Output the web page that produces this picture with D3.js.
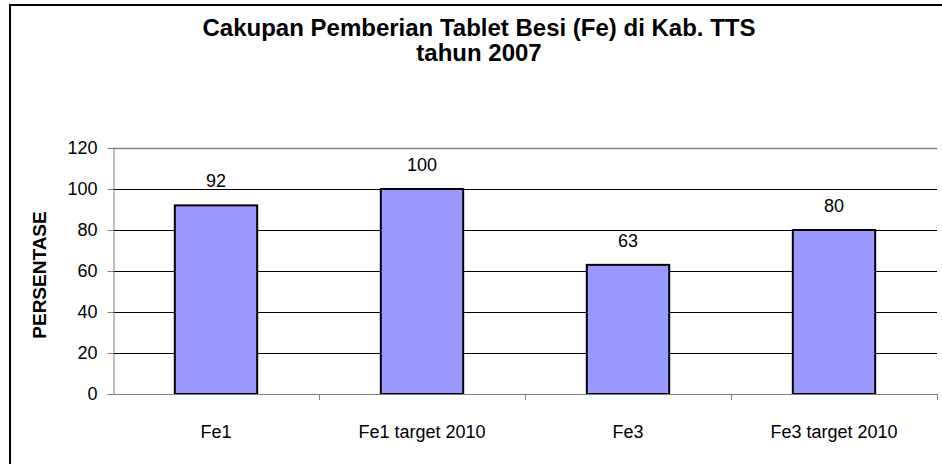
<!DOCTYPE html>
<html>
<head>
<meta charset="utf-8">
<script src="https://cdn.jsdelivr.net/npm/d3@7"></script>
<style>
  html, body { margin: 0; padding: 0; background: #fff; }
  svg { display: block; font-family: Arial, "Liberation Sans", sans-serif; }
</style>
</head>
<body>
<div id="chart"></div>
<script>
const categories = ['Fe1', 'Fe1 target 2010', 'Fe3', 'Fe3 target 2010'];
const values = [92, 100, 63, 80];
const yTicks = [0, 20, 40, 60, 80, 100, 120];
const titleLines = ['Cakupan Pemberian Tablet Besi (Fe) di Kab. TTS', 'tahun 2007'];
const yTitle = 'PERSENTASE';

const width = 942, height = 464;
const plot = { left: 113, right: 937, top: 148, bottom: 394 };

const svg = d3.select('#chart').append('svg')
    .attr('width', width)
    .attr('height', height);

// chart frame, runs past the right and bottom edges like the original crop
svg.append('rect')
    .attr('x', 10).attr('y', 5)
    .attr('width', 942).attr('height', 470)
    .attr('fill', '#fff')
    .attr('stroke', '#000')
    .attr('stroke-width', 2);

svg.append('text')
    .attr('y', 36)
    .attr('text-anchor', 'middle')
    .attr('font-size', '24px')
    .attr('font-weight', 'bold')
  .selectAll('tspan')
  .data(titleLines)
  .join('tspan')
    .attr('x', 479)
    .attr('dy', (d, i) => i ? 25 : 0)
    .text(d => d);

const x = d3.scaleBand()
    .domain(categories)
    .range([plot.left, plot.right])
    .paddingInner(0.6)
    .paddingOuter(0.3);

const y = d3.scaleLinear()
    .domain([0, 120])
    .range([plot.bottom, plot.top]);

// gridlines
svg.append('g')
  .selectAll('line')
  .data(yTicks.filter(t => t > 0 && t < 120))
  .join('line')
    .attr('x1', plot.left).attr('x2', plot.right)
    .attr('y1', d => Math.round(y(d)) + 0.5)
    .attr('y2', d => Math.round(y(d)) + 0.5)
    .attr('stroke', '#000');

// plot area top edge
svg.append('line')
    .attr('x1', plot.left).attr('x2', plot.right)
    .attr('y1', y(120) + 0.5).attr('y2', y(120) + 0.5)
    .attr('stroke', '#808080')
    .attr('stroke-width', 1.5);

// bars
svg.append('g')
  .selectAll('rect')
  .data(values)
  .join('rect')
    .attr('x', (d, i) => x(categories[i]))
    .attr('y', d => y(d))
    .attr('width', x.bandwidth())
    .attr('height', d => y(0) - y(d))
    .attr('fill', '#9999ff')
    .attr('stroke', '#000')
    .attr('stroke-width', 2);

// data labels
svg.append('g')
    .attr('font-size', '18px')
    .attr('text-anchor', 'middle')
  .selectAll('text')
  .data(values)
  .join('text')
    .attr('x', (d, i) => x(categories[i]) + x.bandwidth() / 2)
    .attr('y', d => y(d) - 18)
    .text(d => d);

// y axis
const yAxis = svg.append('g')
    .attr('transform', `translate(${plot.left + 0.5},0)`)
    .call(d3.axisLeft(y).tickValues(yTicks).tickSize(6).tickPadding(10));
yAxis.selectAll('path, line').attr('stroke', '#808080');
yAxis.selectAll('text')
    .attr('font-size', '18px')
    .attr('font-family', 'Arial, "Liberation Sans", sans-serif')
    .attr('fill', '#000');

// x axis: ticks at category boundaries
const boundaries = d3.range(categories.length + 1)
    .map(i => plot.left + i * x.step());
svg.append('line')
    .attr('x1', plot.left).attr('x2', plot.right)
    .attr('y1', plot.bottom + 0.5).attr('y2', plot.bottom + 0.5)
    .attr('stroke', '#808080');
svg.append('g')
  .selectAll('line')
  .data(boundaries.slice(1))
  .join('line')
    .attr('x1', d => Math.round(d) + 0.5).attr('x2', d => Math.round(d) + 0.5)
    .attr('y1', plot.bottom).attr('y2', plot.bottom + 6)
    .attr('stroke', '#808080');

svg.append('g')
    .attr('font-size', '18px')
    .attr('text-anchor', 'middle')
  .selectAll('text')
  .data(categories)
  .join('text')
    .attr('x', d => x(d) + x.bandwidth() / 2)
    .attr('y', 438)
    .text(d => d);

svg.append('text')
    .attr('transform', 'translate(46,275) rotate(-90)')
    .attr('text-anchor', 'middle')
    .attr('font-size', '19px')
    .attr('font-weight', 'bold')
    .text(yTitle);
</script>
</body>
</html>
